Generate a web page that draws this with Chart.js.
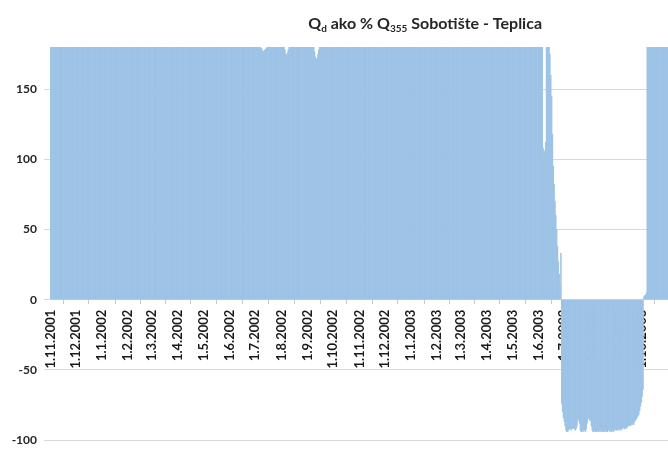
<!DOCTYPE html>
<html>
<head>
<meta charset="utf-8">
<script src="https://cdn.jsdelivr.net/npm/chart.js@4"></script>
<style>
  html, body { margin: 0; padding: 0; background: #fff; }
  canvas { display: block; }
</style>
</head>
<body>
<canvas id="chart" width="668" height="451"></canvas>
<script>
// Daily discharge Qd as % of Q355, Sobotište - Teplica, 1.11.2001 - 31.10.2003
// (values above the axis ceiling are shown at 180)
const nov2001 = [
  180, 180, 180, 180, 180, 180, 180, 180, 180, 180,
  180, 180, 180, 180, 180, 180, 180, 180, 180, 180,
  180, 180, 180, 180, 180, 180, 180, 180, 180, 180];
const dec2001 = [
  180, 180, 180, 180, 180, 180, 180, 180, 180, 180,
  180, 180, 180, 180, 180, 180, 180, 180, 180, 180,
  180, 180, 180, 180, 180, 180, 180, 180, 180, 180, 180];
const jan2002 = [
  180, 180, 180, 180, 180, 180, 180, 180, 180, 180,
  180, 180, 180, 180, 180, 180, 180, 180, 180, 180,
  180, 180, 180, 180, 180, 180, 180, 180, 180, 180, 180];
const feb2002 = [
  180, 180, 180, 180, 180, 180, 180, 180, 180, 180,
  180, 180, 180, 180, 180, 180, 180, 180, 180, 180,
  180, 180, 180, 180, 180, 180, 180, 180];
const mar2002 = [
  180, 180, 180, 180, 180, 180, 180, 180, 180, 180,
  180, 180, 180, 180, 180, 180, 180, 180, 180, 180,
  180, 180, 180, 180, 180, 180, 180, 180, 180, 180, 180];
const apr2002 = [
  180, 180, 180, 180, 180, 180, 180, 180, 180, 180,
  180, 180, 180, 180, 180, 180, 180, 180, 180, 180,
  180, 180, 180, 180, 180, 180, 180, 180, 180, 180];
const may2002 = [
  180, 180, 180, 180, 180, 180, 180, 180, 180, 180,
  180, 180, 180, 180, 180, 180, 180, 180, 180, 180,
  180, 180, 180, 180, 180, 180, 180, 180, 180, 180, 180];
const jun2002 = [
  180, 180, 180, 180, 180, 180, 180, 180, 180, 180,
  180, 180, 180, 180, 180, 180, 180, 180, 180, 180,
  180, 180, 180, 180, 180, 180, 180, 180, 180, 180];
const jul2002 = [
  180, 180, 180, 180, 180, 180, 180, 179, 178, 177,
  177, 178, 178, 179, 180, 180, 180, 180, 180, 180,
  180, 180, 180, 180, 180, 180, 180, 180, 180, 180, 180];
const aug2002 = [
  180, 180, 180, 180, 178, 175, 174, 176, 178, 180,
  180, 180, 180, 180, 180, 180, 180, 180, 180, 180,
  180, 180, 180, 180, 180, 180, 180, 180, 180, 180, 180];
const sep2002 = [
  180, 180, 180, 180, 180, 180, 180, 180, 177, 173,
  171, 172, 175, 178, 180, 180, 180, 180, 180, 180,
  180, 180, 180, 180, 180, 180, 180, 180, 180, 180];
const oct2002 = [
  180, 180, 180, 180, 180, 180, 180, 180, 180, 180,
  180, 180, 180, 180, 180, 180, 180, 180, 180, 180,
  180, 180, 180, 180, 180, 180, 180, 180, 180, 180, 180];
const nov2002 = [
  180, 180, 180, 180, 180, 180, 180, 180, 180, 180,
  180, 180, 180, 180, 180, 180, 180, 180, 180, 180,
  180, 180, 180, 180, 180, 180, 180, 180, 180, 180];
const dec2002 = [
  180, 180, 180, 180, 180, 180, 180, 180, 180, 180,
  180, 180, 180, 180, 180, 180, 180, 180, 180, 180,
  180, 180, 180, 180, 180, 180, 180, 180, 180, 180, 180];
const jan2003 = [
  180, 180, 180, 180, 180, 180, 180, 180, 180, 180,
  180, 180, 180, 180, 180, 180, 180, 180, 180, 180,
  180, 180, 180, 180, 180, 180, 180, 180, 180, 180, 180];
const feb2003 = [
  180, 180, 180, 180, 180, 180, 180, 180, 180, 180,
  180, 180, 180, 180, 180, 180, 180, 180, 180, 180,
  180, 180, 180, 180, 180, 180, 180, 180];
const mar2003 = [
  180, 180, 180, 180, 180, 180, 180, 180, 180, 180,
  180, 180, 180, 180, 180, 180, 180, 180, 180, 180,
  180, 180, 180, 180, 180, 180, 180, 180, 180, 180, 180];
const apr2003 = [
  180, 180, 180, 180, 180, 180, 180, 180, 180, 180,
  180, 180, 180, 180, 180, 180, 180, 180, 180, 180,
  180, 180, 180, 180, 180, 180, 180, 180, 180, 180];
const may2003 = [
  180, 180, 180, 180, 180, 180, 180, 180, 180, 180,
  180, 180, 180, 180, 180, 180, 180, 180, 180, 180,
  180, 180, 180, 180, 180, 180, 180, 180, 180, 180, 180];
const jun2003 = [
  180, 180, 180, 180, 180, 108, 104, 106, 112, 180,
  180, 180, 180, 175, 160, 145, 118, 95, 82, 70,
  60, 50, 38, 27, 18, 10, 33, -74, -80, -84];
const jul2003 = [
  -87, -90, -93, -94, -94, -93, -92, -92, -93, -92,
  -92, -91, -92, -93, -92, -90, -86, -85, -88, -93,
  -94, -93, -94, -93, -93, -94, -92, -88, -85, -84, -86];
const aug2003 = [
  -86, -90, -93, -94, -94, -93, -94, -94, -93, -94,
  -94, -93, -94, -93, -94, -94, -93, -94, -93, -94,
  -94, -93, -93, -94, -93, -94, -93, -94, -93, -93, -92];
const sep2003 = [
  -93, -93, -92, -93, -92, -93, -92, -92, -91, -92,
  -91, -92, -91, -90, -90, -89, -90, -89, -89, -88,
  -89, -87, -86, -85, -84, -83, -82, -79, -76, -73];
const oct2003 = [
  -69, -64, 2, 3, 3, 5, 180, 180, 180, 180,
  180, 180, 180, 180, 180, 180, 180, 180, 180, 180,
  180, 180, 180, 180, 180, 180, 180, 180, 180, 180, 180];

// Month-start tick labels shown along the zero line
const monthTicks = [
  '1.11.2001', '1.12.2001', '1.1.2002', '1.2.2002', '1.3.2002', '1.4.2002',
  '1.5.2002', '1.6.2002', '1.7.2002', '1.8.2002', '1.9.2002', '1.10.2002',
  '1.11.2002', '1.12.2002', '1.1.2003', '1.2.2003', '1.3.2003', '1.4.2003',
  '1.5.2003', '1.6.2003', '1.7.2003', '1.8.2003', '1.9.2003', '1.10.2003'
];

// Title pieces: [text, isSubscript]
const titleParts = [
  ['Q', false], ['d', true], [' ako % Q', false], ['355', true], [' Sobotište - Teplica', false]
];

const qValues = [].concat(
  nov2001, dec2001, jan2002, feb2002, mar2002, apr2002,
  may2002, jun2002, jul2002, aug2002, sep2002, oct2002,
  nov2002, dec2002, jan2003, feb2003, mar2003, apr2003,
  may2003, jun2003, jul2003, aug2003, sep2003, oct2003
);

// One category per day, starting 1.11.2001
const dayLabels = qValues.map((_, i) => {
  const d = new Date(2001, 10, 1 + i);
  return d.getDate() + '.' + (d.getMonth() + 1) + '.' + d.getFullYear();
});

const FONT = 'Lato, "Open Sans", sans-serif';

// Title with subscripted Q indices
const subscriptTitle = {
  id: 'subscriptTitle',
  afterDraw(chart) {
    const ctx = chart.ctx;
    const area = chart.chartArea;
    const mainFont = 'bold 16px ' + FONT;
    const subFont = 'bold 10px ' + FONT;
    ctx.save();
    let total = 0;
    titleParts.forEach(([t, s]) => {
      ctx.font = s ? subFont : mainFont;
      total += ctx.measureText(t).width;
    });
    let x = area.left + (area.right - area.left) * 0.607 - total / 2;
    const baseline = 28.5;
    ctx.fillStyle = '#262626';
    ctx.textBaseline = 'alphabetic';
    ctx.textAlign = 'left';
    titleParts.forEach(([t, s]) => {
      ctx.font = s ? subFont : mainFont;
      ctx.fillText(t, x, s ? baseline + 3.5 : baseline);
      x += ctx.measureText(t).width;
    });
    ctx.restore();
  }
};

new Chart(document.getElementById('chart'), {
  type: 'bar',
  data: {
    labels: dayLabels,
    datasets: [{
      data: qValues,
      backgroundColor: 'rgb(157, 195, 230)',
      borderWidth: 0,
      barPercentage: 1,
      categoryPercentage: 1
    }]
  },
  options: {
    responsive: false,
    animation: false,
    events: [],
    layout: { padding: { top: 47, bottom: 11, left: 0, right: 0 } },
    plugins: {
      legend: { display: false },
      title: { display: false },
      tooltip: { enabled: false }
    },
    scales: {
      x: {
        position: { y: 0 },
        z: 1,
        grid: {
          display: true,
          drawOnChartArea: false,
          drawTicks: true,
          tickLength: 4,
          color: '#c8c8c8'
        },
        border: { display: false },
        ticks: {
          autoSkip: false,
          minRotation: 90,
          maxRotation: 90,
          padding: 6,
          color: '#1a1a1a',
          font: { family: FONT, weight: 'bold', size: 13 },
          callback: (v, i) => (monthTicks.includes(dayLabels[i]) ? dayLabels[i] : null)
        }
      },
      y: {
        min: -100,
        max: 180,
        afterBuildTicks: s => { s.ticks = s.ticks.filter(t => t.value % 50 === 0); },
        afterFit: s => {
          s.width = 50;
          s.paddingTop = 0;
          s.paddingBottom = 0;
        },
        grid: { color: '#d9d9d9', tickLength: 6 },
        border: { display: false },
        ticks: {
          stepSize: 50,
          padding: 7,
          color: '#262626',
          font: { family: FONT, weight: 'bold', size: 12 }
        }
      }
    }
  },
  plugins: [subscriptTitle]
});
</script>
</body>
</html>
